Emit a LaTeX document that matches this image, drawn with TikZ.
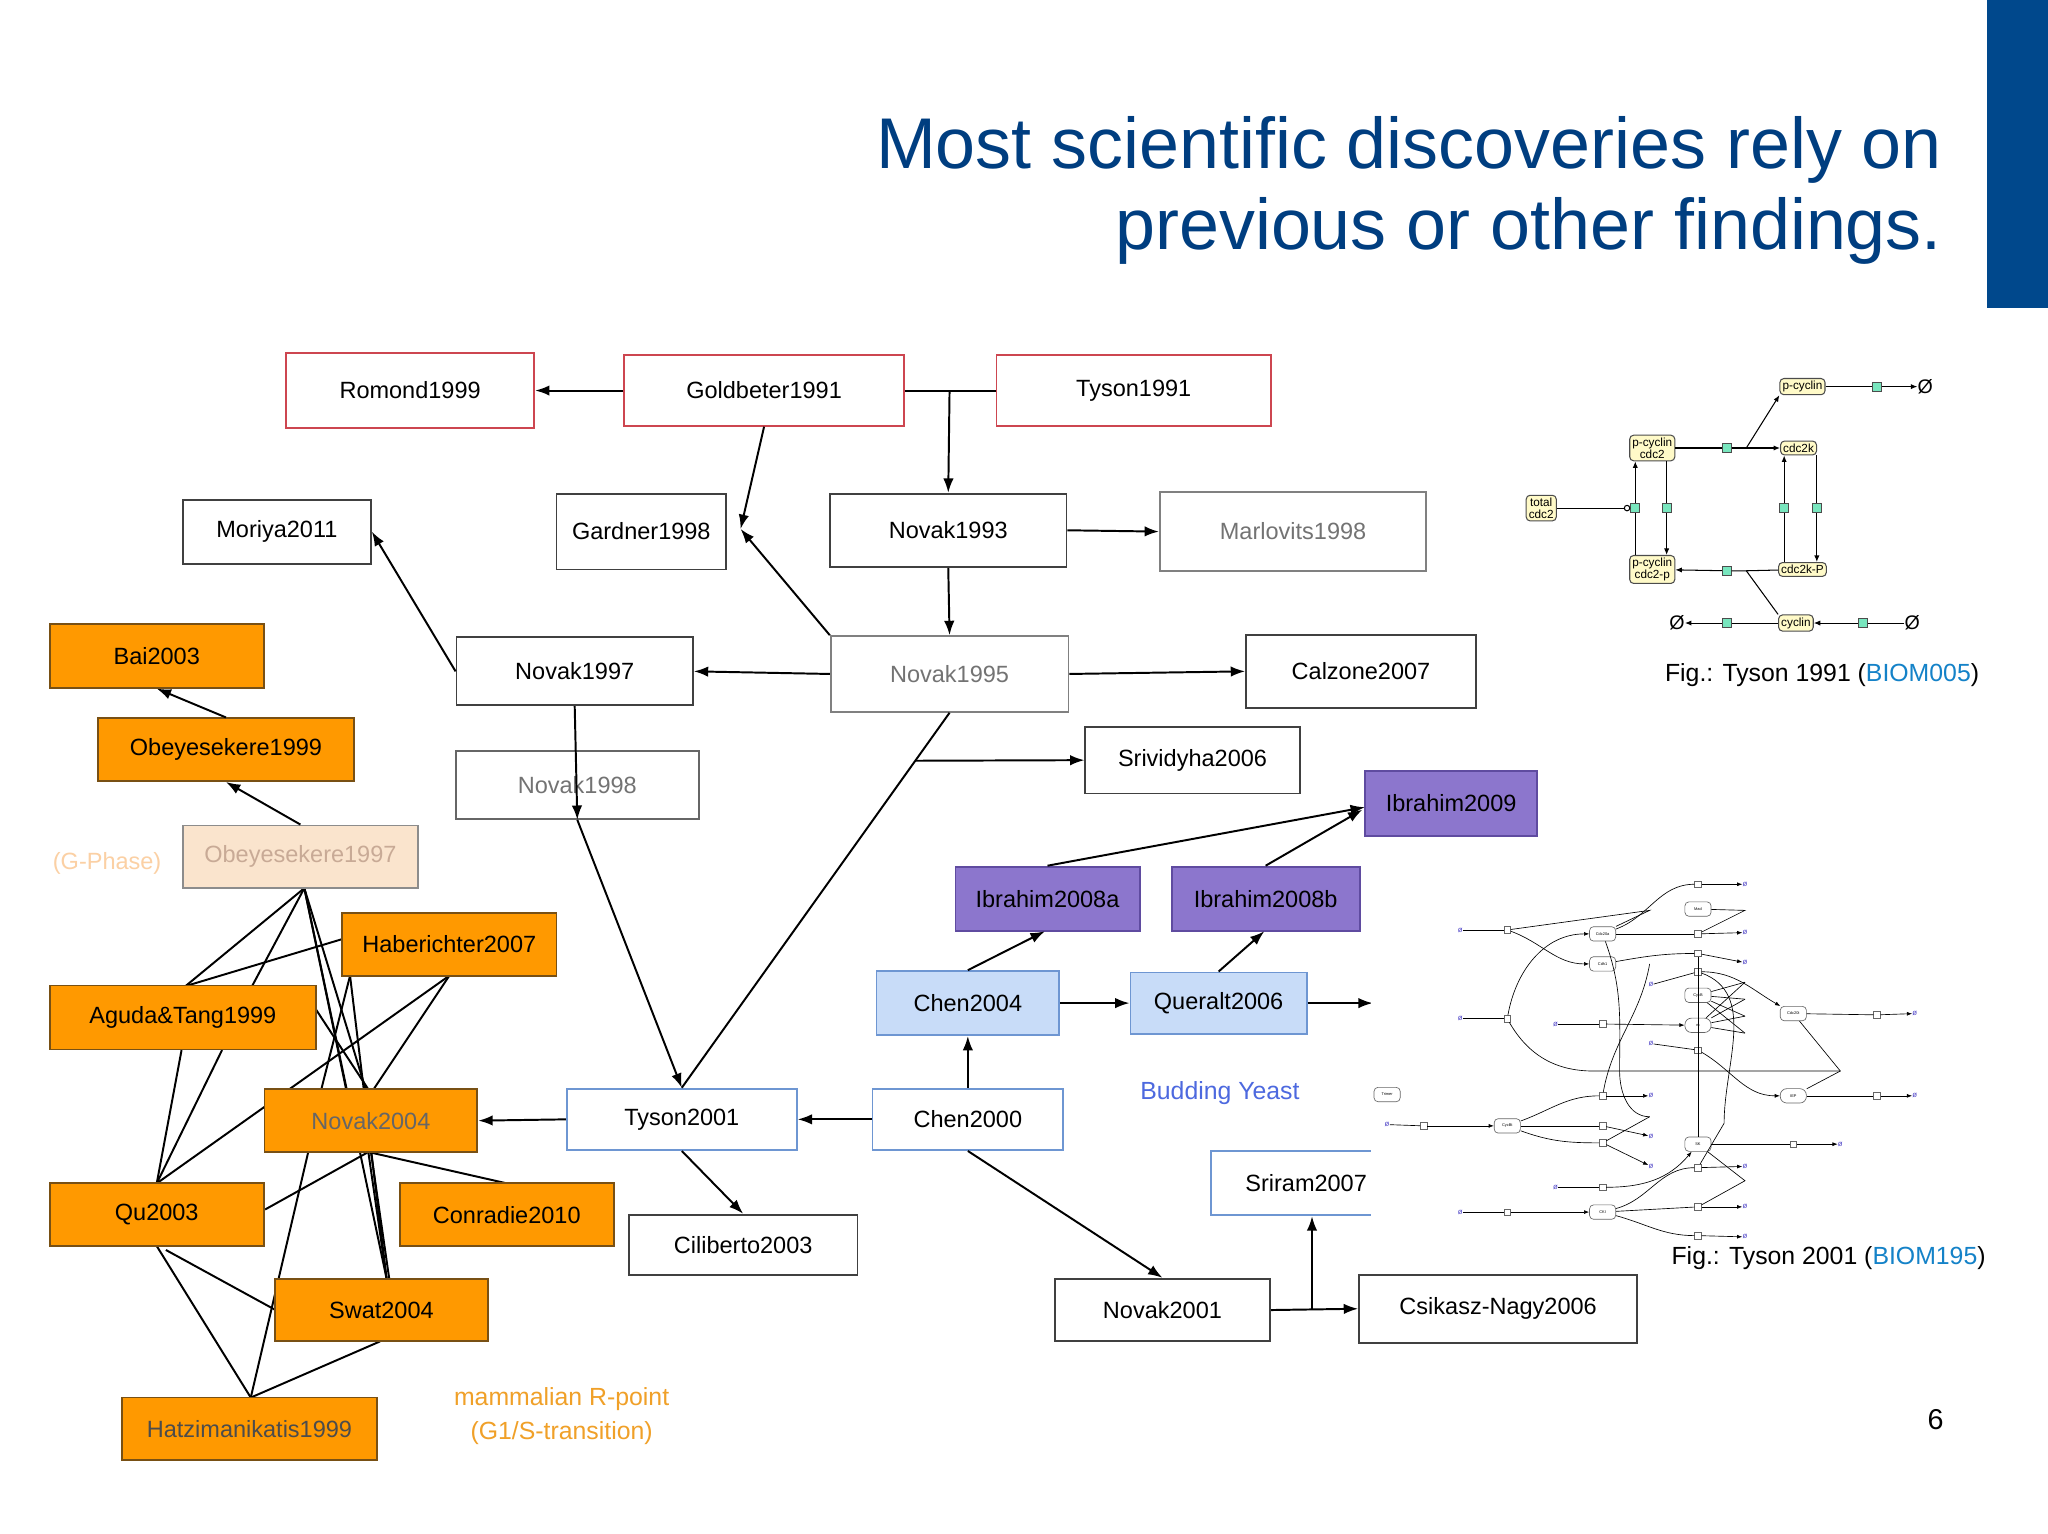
\documentclass[tikz,border=0pt]{standalone}
\usepackage{fontspec}
\setmainfont{Liberation Sans}
\usetikzlibrary{arrows.meta,calc}
\definecolor{tblue}{RGB}{0,62,128}
\definecolor{bar}{RGB}{0,72,140}
\definecolor{redb}{RGB}{205,70,80}
\definecolor{orf}{RGB}{255,153,0}
\definecolor{orb}{RGB}{120,80,20}
\definecolor{purf}{RGB}{140,118,205}
\definecolor{purb}{RGB}{95,75,160}
\definecolor{lbf}{RGB}{200,220,248}
\definecolor{lbb}{RGB}{110,150,210}
\definecolor{beige}{RGB}{250,228,205}
\definecolor{beiget}{RGB}{200,170,150}
\definecolor{orlab}{RGB}{240,160,40}
\definecolor{linkb}{RGB}{20,130,200}
\definecolor{yel}{RGB}{255,250,200}
\definecolor{sq}{RGB}{120,230,190}
\definecolor{zb}{RGB}{80,70,200}
\begin{document}
\begin{tikzpicture}[x=1pt,y=-1pt,
  box/.style={draw=black!75,line width=1.4pt,fill=white,inner sep=0pt,font=\fontsize{18}{20}\selectfont},
  red/.style={box,draw=redb},
  org/.style={box,fill=orf,draw=orb},
  pur/.style={box,fill=purf,draw=purb},
  lb/.style={box,fill=lbf,draw=lbb},
  bw/.style={box,draw=lbb},
  arr/.style={line width=1.5pt,-{Latex[length=11pt,width=8pt]}},
  ln/.style={line width=1.5pt},
  yn/.style={draw=black!70,fill=yel,rounded corners=3pt,line width=0.8pt,font=\fontsize{9}{9}\selectfont,align=center,inner sep=2pt},
  sqn/.style={draw=black!70,fill=sq,minimum size=7pt,inner sep=0pt,line width=0.6pt},
  a1/.style={line width=0.8pt,-{Latex[length=5pt,width=4pt]}},
  l1/.style={line width=0.8pt},
  sn/.style={draw=black!60,fill=white,rounded corners=3pt,font=\fontsize{3}{3}\selectfont,minimum width=20pt,minimum height=11pt,inner sep=0pt,line width=0.5pt},
  ss/.style={draw=black!60,fill=white,minimum size=5pt,inner sep=0pt,line width=0.5pt},
  zz/.style={text=zb,font=\fontsize{6}{6}\selectfont,inner sep=0pt},
  a2/.style={line width=0.5pt,-{Latex[length=4pt,width=3pt]}},
  l2/.style={line width=0.5pt}]
\useasboundingbox (0,0) rectangle (1568,1174);
\fill[white] (0,0) rectangle (1568,1174);
\fill[bar] (1521,0) rectangle (1568,236);
\node[anchor=east,text=tblue,font=\fontsize{55}{62}\selectfont,align=right,inner sep=0pt] (title) at (1487,146) {Most scientific discoveries rely on\\previous or other findings.};

% ---------- cluster lines (under boxes)
\coordinate (ob) at (233,680);
\draw[ln] (ob) -- (142,755); \draw[ln] (ob) -- (193,755);
\draw[ln] (ob) -- (265,834); \draw[ln] (ob) -- (280,834);
\draw[ln] (ob) -- (296,979);
\draw[ln] (262,719) -- (142,755);
\draw[ln] (268,747) -- (296,979);
\draw[ln] (268,747) -- (246,834);
\draw[ln] (344,747) -- (120,906);
\draw[ln] (344,747) -- (286,834);
\draw[ln] (242,773) -- (282,834);
\draw[ln] (139,804) -- (120,906); \draw[ln] (170,804) -- (120,906);
\draw[ln] (282,882) -- (203,926);
\draw[ln] (282,882) -- (388,906);
\draw[ln] (282,882) -- (296,979); \draw[ln] (284,882) -- (298,979);
\draw[ln] (236,882) -- (192,1070);
\draw[ln] (120,954) -- (192,1070);
\draw[ln] (127,957) -- (211,1003);
\draw[ln] (291,1027) -- (192,1070);

% ---------- boxes
\node[red,minimum width=190,minimum height=58] (rom) at (314,299) {Romond1999};
\node[red,minimum width=214,minimum height=54] (gold) at (585,299) {Goldbeter1991};
\node[red,minimum width=210,minimum height=54] (tys91) at (868,299) {Tyson1991};
\node[box,minimum width=144,minimum height=49] (mor) at (212,407) {Moriya2011};
\node[box,minimum width=130,minimum height=58] (gar) at (491,407) {Gardner1998};
\node[box,minimum width=181,minimum height=56] (n93) at (726,406) {Novak1993};
\node[box,draw=black!50,text=black!55,minimum width=204,minimum height=60] (mar) at (990,407) {Marlovits1998};
\node[org,minimum width=164,minimum height=49] (bai) at (120,502) {Bai2003};
\node[org,minimum width=196,minimum height=48] (ob99) at (173,574) {Obeyesekere1999};
\node[box,minimum width=181,minimum height=52] (n97) at (440,514) {Novak1997};
\node[box,draw=black!50,text=black!55,minimum width=182,minimum height=58] (n95) at (727,516) {Novak1995};
\node[box,minimum width=176,minimum height=56] (cal) at (1042,514) {Calzone2007};
\node[box,minimum width=164,minimum height=51] (sri) at (913,582) {Srividyha2006};
\node[box,draw=black!60,text=black!55,minimum width=186,minimum height=52] (n98) at (442,601) {Novak1998};
\node[pur,minimum width=132,minimum height=50] (ib09) at (1111,615) {Ibrahim2009};
\node[box,fill=beige,draw=black!45,text=beiget,minimum width=180,minimum height=48] (ob97) at (230,656) {Obeyesekere1997};
\node[text=beige!80!orange,font=\fontsize{18}{20}\selectfont,inner sep=0pt] (gph) at (82,661) {(G-Phase)};
\node[pur,minimum width=141,minimum height=49] (ib8a) at (802,688) {Ibrahim2008a};
\node[pur,minimum width=144,minimum height=49] (ib8b) at (969,688) {Ibrahim2008b};
\node[org,minimum width=164,minimum height=48] (hab) at (344,723) {Haberichter2007};
\node[lb,minimum width=140,minimum height=49] (c04) at (741,768) {Chen2004};
\node[lb,minimum width=135,minimum height=47] (que) at (933,768) {Queralt2006};
\node[org,minimum width=204,minimum height=49] (agu) at (140,779) {Aguda\&Tang1999};
\node[bw,minimum width=176,minimum height=47] (t01) at (522,857) {Tyson2001};
\node[bw,minimum width=146,minimum height=47] (c00) at (741,857) {Chen2000};
\node[org,text=black!60,minimum width=163,minimum height=48] (n04) at (284,858) {Novak2004};
\node[org,minimum width=164,minimum height=48] (qu) at (120,930) {Qu2003};
\node[org,minimum width=164,minimum height=48] (con) at (388,930) {Conradie2010};
\node[box,draw=lbb,minimum width=146,minimum height=49] (sr07) at (1000,906) {Sriram2007};
\node[box,minimum width=175,minimum height=46] (cil) at (569,953) {Ciliberto2003};
\node[org,minimum width=163,minimum height=48] (swa) at (292,1003) {Swat2004};
\node[box,minimum width=165,minimum height=48] (n01) at (890,1003) {Novak2001};
\node[box,minimum width=213,minimum height=52] (csi) at (1147,1002) {Csikasz-Nagy2006};
\node[org,text=black!70,minimum width=195,minimum height=48] (hat) at (191,1094) {Hatzimanikatis1999};
\node[text=lbb!70!blue,font=\fontsize{19}{20}\selectfont] (by) at (934,837) {Budding Yeast};
\node[text=orlab,font=\fontsize{19}{26}\selectfont,align=center] (mr) at (430,1084) {mammalian R-point\\(G1/S-transition)};

% ---------- arrows
\draw[arr] (gold.west) -- (rom.east);
\draw[ln] (gold.east) -- (tys91.west);
\coordinate (j) at (727,299);
\draw[arr] (j) -- (n93.north);
\draw[arr] (gold.south) -- (567,405);
\draw[arr] (n93.south) -- (n95.north);
\draw[arr] (n93.east) -- (mar.west);
\draw[arr] (n95.north west) -- (567,405);
\draw[arr] (n95.west) -- (n97.east);
\draw[arr] (n95.east) -- (cal.west);
\draw[arr] (n97.west) -- (mor.east);
\draw[arr] (n97.south) -- (n98.south);
\draw[arr] (n98.south) -- (t01.north);
\draw[ln] (n95.south) -- (t01.north);
\coordinate (k) at ($(n95.south)!0.128!(t01.north)$);
\draw[arr] (k) -- (sri.west);
\draw[arr] (ib8a.north) -- (1045,618);
\draw[arr] (ib8b.north) -- (1043,620);
\draw[arr] (c04.north) -- (800,713);
\draw[arr] (c04.east) -- (que.west);
\draw[arr] (que.north) -- (968,713);
\coordinate (qe) at (1051,768);
\draw[arr] (que.east) -- (qe);
\draw[arr] (c00.north) -- (c04.south);
\draw[arr] (c00.west) -- (t01.east);
\draw[arr] (t01.west) -- (n04.east);
\draw[arr] (t01.south) -- (cil.north);
\draw[arr] (c00.south) -- (n01.north);
\draw[arr] (n01.east) -- (csi.west);
\coordinate (m) at ($(n01.east)!0.47!(csi.west)$);
\draw[arr] (m) -- (sr07.south -| m);
\draw[arr] (ob99.north) -- (bai.south);
\draw[arr] (ob97.north) -- (ob99.south);

% ---------- Fig Tyson 1991
\node[yn] (pc) at (1380,296) {p-cyclin};
\node[yn] (pcc) at (1265,343) {p-cyclin\\cdc2};
\node[yn] (tc) at (1180,389) {total\\cdc2};
\node[yn] (pcp) at (1265,436) {p-cyclin\\cdc2-p};
\node[yn] (ck) at (1377,343) {cdc2k};
\node[yn] (ckp) at (1380,436) {cdc2k-P};
\node[yn] (cy) at (1375,477) {cyclin};
\node[font=\fontsize{15}{15}\selectfont,inner sep=0pt] (e1) at (1474,296) {Ø};
\node[font=\fontsize{15}{15}\selectfont,inner sep=0pt] (e2) at (1284,477) {Ø};
\node[font=\fontsize{15}{15}\selectfont,inner sep=0pt] (e3) at (1464,477) {Ø};
\node[sqn] (q1) at (1437,296) {};
\node[sqn] (q2) at (1322,343) {};
\node[sqn] (q3) at (1252,389) {};
\node[sqn] (q4) at (1276,389) {};
\node[sqn] (q5) at (1366,389) {};
\node[sqn] (q6) at (1391,389) {};
\node[sqn] (q7) at (1322,437) {};
\node[sqn] (q8) at (1322,477) {};
\node[sqn] (q9) at (1426,477) {};
\coordinate (b1) at (1337,343); \coordinate (b2) at (1337,437);
\draw[l1] (pc) -- (q1); \draw[a1] (q1) -- (e1);
\draw[l1] (pcc) -- (q2) -- (b1); \draw[a1] (b1) -- (ck); \draw[a1] (b1) -- (pc.south west);
\draw[l1] (pcp.north -| q3) -- (q3); \draw[a1] (q3) -- (pcc.south -| q3);
\draw[l1] (pcc.south -| q4) -- (q4); \draw[a1] (q4) -- (pcp.north -| q4);
\draw[l1] (ckp.north -| q5) -- (q5); \draw[a1] (q5) -- (ck.south -| q5);
\draw[l1] (ck.south -| q6) -- (q6); \draw[a1] (q6) -- (ckp.north -| q6);
\draw[l1,-{Circle[open,length=5pt,width=5pt]}] (tc) -- (q3.west);
\draw[l1] (ckp) -- (b2) -- (q7); \draw[a1] (q7) -- (pcp);
\draw[l1] (b2) -- (cy.north west);
\draw[l1] (cy) -- (q8); \draw[a1] (q8) -- (e2);
\draw[l1] (e3) -- (q9); \draw[a1] (q9) -- (cy);
\node[font=\fontsize{19}{20}\selectfont,inner sep=0pt] (f1) at (1395,517) {Fig.: Tyson 1991 (\textcolor{linkb}{BIOM005})};

% ---------- Fig Tyson 2001 (simplified)
\fill[white] (1050,666) rectangle (1480,940);
\node[sn] (cd20a) at (1227,715) {Cdc20a};
\node[sn] (cdh) at (1227,738) {Cdh1};
\node[sn] (mad) at (1300,696) {Mad};
\node[sn] (cycb) at (1300,762) {CycB};
\node[sn,rounded corners=5pt] (mm) at (1300,785) {m};
\node[sn] (cd20t) at (1373,776) {Cdc20t};
\node[sn,rounded corners=5pt] (iep) at (1373,839) {IEP};
\node[sn] (tri) at (1062,838) {Trimer};
\node[sn] (cbt) at (1154,862) {CycBt};
\node[sn] (sk) at (1300,876) {SK};
\node[sn] (cki) at (1227,928) {CKI};
\foreach \n/\x/\y in {z1/1118/712,z2/1118/780,z3/1191/784,z4/1264/754,z5/1264/799,z6/1336/677,z7/1336/714,z8/1336/737,z9/1466/776,z10/1466/839,z11/1062/861,z12/1264/839,z13/1264/870,z14/1264/893,z15/1409/876,z16/1336/893,z17/1191/909,z18/1336/924,z19/1118/928,z20/1336/947}
  \node[zz] (\n) at (\x,\y) {ø};
\foreach \n/\x/\y in {s1/1154/712,s2/1154/780,s3/1227/784,s4/1300/744,s5/1300/804,s6/1300/677,s7/1300/715,s8/1300/730,s9/1437/777,s10/1437/839,s11/1090/862,s12/1227/839,s13/1227/862,s14/1227/875,s15/1373/876,s16/1300/894,s17/1227/909,s18/1300/924,s19/1154/928,s20/1300/946}
  \node[ss] (\n) at (\x,\y) {};
\draw[l2] (z1) -- (s1); \draw[a2] (s1) to[out=-20,in=180] (cdh);
\draw[l2] (s1) -- (1263,697) -- (cd20a.north east);
\draw[l2] (z2) -- (s2); \draw[a2] (s2) to[out=80,in=180] (cd20a);
\draw[l2] (s2) to[out=-60,in=180] (1220,820) -- (1409,820);
\draw[l2] (cd20t) -- (1409,820) -- (iep);
\draw[l2] (z3) -- (s3); \draw[a2] (s3) -- (mm);
\draw[l2] (z4) -- (s4); \draw[a2] (s4) to[out=0,in=150] (cd20t);
\draw[l2] (z5) -- (s5); \draw[a2] (s5) to[out=-30,in=180] (iep);
\draw[l2] (cd20a) to[out=20,in=180] (s6); \draw[a2] (s6) -- (z6);
\draw[l2] (cd20a) -- (s7); \draw[a2] (s7) -- (z7);
\draw[l2] (cdh) to[out=10,in=180] (s8); \draw[a2] (s8) -- (z8);
\draw[l2] (mad) -- (1336,697) -- (s7);
\draw[l2] (cd20t) -- (s9); \draw[a2] (s9) -- (z9);
\draw[l2] (iep) -- (s10); \draw[a2] (s10) -- (z10);
\draw[l2] (z11) -- (s11); \draw[a2] (s11) -- (cbt);
\draw[l2] (cbt) to[out=20,in=180] (s12); \draw[a2] (s12) -- (z12);
\draw[l2] (cbt) -- (s13); \draw[a2] (s13) -- (z13);
\draw[l2] (cbt) to[out=-20,in=180] (s14); \draw[a2] (s14) -- (z14);
\draw[l2] (s12) to[out=80,in=-100] (1263,738);
\draw[l2] (s14) -- (1263,855);
\draw[l2] (z17) -- (s17); \draw[a2] (s17) to[out=0,in=-130] (sk);
\draw[l2] (sk) -- (s15); \draw[a2] (s15) -- (z15);
\draw[l2] (cki) to[out=15,in=180] (s16); \draw[a2] (s16) -- (z16);
\draw[l2] (cki) -- (s18); \draw[a2] (s18) -- (z18);
\draw[l2] (cki) to[out=-15,in=180] (s20); \draw[a2] (s20) -- (z20);
\draw[l2] (z19) -- (s19); \draw[a2] (s19) -- (cki);
\draw[l2] (cd20a) to[out=-70,in=90] (1240,820) to[out=-90,in=180] (1263,855);
\draw[l2] (sk) -- (s8);
\foreach \t in {752,765,778,791} { \draw[l2] (cycb) -- (1336,\t); \draw[l2] (mm) -- (1336,\t); }
\draw[l2] (s4) to[out=-20,in=90] (1320,860) -- (s16);
\draw[l2] (sk) -- (1336,904) -- (s18);
\node[font=\fontsize{19}{20}\selectfont,inner sep=0pt] (f2) at (1400,963) {Fig.: Tyson 2001 (\textcolor{linkb}{BIOM195})};
\node[font=\fontsize{22}{22}\selectfont] (pg) at (1482,1087) {6};
\end{tikzpicture}
\end{document}
